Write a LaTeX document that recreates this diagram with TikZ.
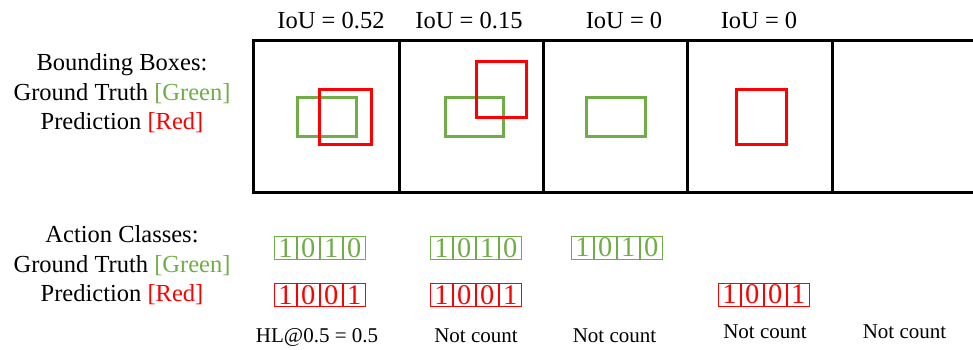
\documentclass[tikz,border=0pt]{standalone}
\usepackage{fontspec}
\setmainfont{Liberation Serif}
\definecolor{gtgreen}{RGB}{112,173,71}
\definecolor{prred}{RGB}{255,0,0}
\tikzset{
  lbl/.style={anchor=base, inner sep=0pt, font=\fontsize{24.5}{29}\selectfont},
  small/.style={anchor=base, inner sep=0pt, font=\fontsize{21}{25}\selectfont},
  frame/.style={draw=black, line width=3pt},
  gtbox/.style={draw=gtgreen, line width=3pt},
  prbox/.style={draw=prred, line width=3pt},
  cell/.style={draw, line width=0.9pt, minimum width=22pt, minimum height=23pt, inner sep=0pt, anchor=west, font=\fontsize{28.5}{28.5}\selectfont},
}
% #1 name prefix, #2 left x, #3 center y, #4 colour, #5-#8 digits
\newcommand\classrow[8]{%
  \node[cell, draw=#4, text=#4] (#1a) at (#2,#3) {#5};
  \node[cell, draw=#4, text=#4] (#1b) at (#1a.east) {#6};
  \node[cell, draw=#4, text=#4] (#1c) at (#1b.east) {#7};
  \node[cell, draw=#4, text=#4] (#1d) at (#1c.east) {#8};
}
\begin{document}
\begin{tikzpicture}[x=1pt, y=-1pt]
\useasboundingbox (0,0) rectangle (973,349);
% left labels
\node[lbl] (bb1) at (122,70) {Bounding Boxes:};
\node[lbl] (bb2) at (122,100.7) {Ground Truth \textcolor{gtgreen}{[Green]}};
\node[lbl] (bb3) at (122,129.3) {Prediction \textcolor{prred}{[Red]}};
\node[lbl] (ac1) at (122,242.5) {Action Classes:};
\node[lbl] (ac2) at (122,272.7) {Ground Truth \textcolor{gtgreen}{[Green]}};
\node[lbl] (ac3) at (122,301) {Prediction \textcolor{prred}{[Red]}};
% IoU labels
\node[lbl] (iou1) at (331,28) {IoU = 0.52};
\node[lbl] (iou2) at (469,28) {IoU = 0.15};
\node[lbl] (iou3) at (624,28) {IoU = 0};
\node[lbl] (iou4) at (759,28) {IoU = 0};
% frame panels
\draw[frame] (253,40) rectangle (990,192);
\draw[frame] (399,40) -- (399,192);
\draw[frame] (543,40) -- (543,192);
\draw[frame] (687,40) -- (687,192);
\draw[frame] (832,40) -- (832,192);
% panel 1
\draw[gtbox] (297,97) rectangle (356,136);
\draw[prbox] (319,89) rectangle (371,144);
% panel 2
\draw[gtbox] (445,97) rectangle (503,136);
\draw[prbox] (476,61) rectangle (526,117);
% panel 3
\draw[gtbox] (586,97) rectangle (645,136);
% panel 4
\draw[prbox] (736,89) rectangle (786,144);
% class vectors
\classrow{ga}{274}{248}{gtgreen}{1}{0}{1}{0}
\classrow{ra}{274}{294.7}{prred}{1}{0}{0}{1}
\classrow{gb}{430}{248}{gtgreen}{1}{0}{1}{0}
\classrow{rb}{430}{294.7}{prred}{1}{0}{0}{1}
\classrow{gc}{571}{247.5}{gtgreen}{1}{0}{1}{0}
\classrow{rd}{718}{294.5}{prred}{1}{0}{0}{1}
% bottom labels
\node[small] (hl) at (317,342) {HL@0.5 = 0.5};
\node[small] (nc2) at (476,342) {Not count};
\node[small] (nc3) at (614.5,342) {Not count};
\node[small] (nc4) at (765,338) {Not count};
\node[small] (nc5) at (904.5,338) {Not count};
\end{tikzpicture}
\end{document}
